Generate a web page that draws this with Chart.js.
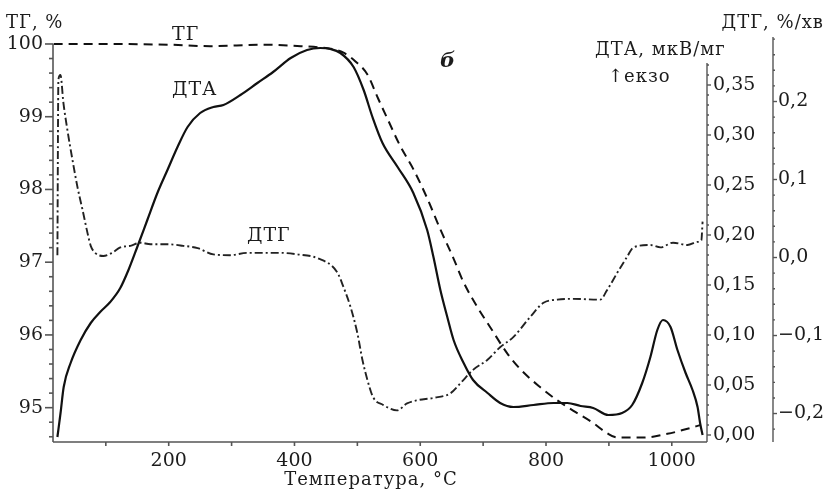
<!DOCTYPE html>
<html>
<head>
<meta charset="utf-8">
<script src="https://cdn.jsdelivr.net/npm/chart.js@4.4.0/dist/chart.umd.min.js"></script>
<style>
  body { margin: 0; background: #fff; }
  #wrap { width: 825px; height: 489px; position: relative; }
</style>
</head>
<body>
<div id="wrap"><canvas id="thermo"></canvas></div>
<script>
// ТГ, % (dashed line)
const tgTemp = [17, 100, 200, 266, 350, 410, 460, 478, 497, 516, 533, 549, 568, 589, 611, 632, 653, 668, 691, 711, 738, 759, 791, 818, 843, 875, 897, 913, 955, 993, 1025, 1045];
const tgMass = [100.0, 100.0, 99.99, 99.97, 99.99, 99.97, 99.93, 99.88, 99.76, 99.58, 99.25, 98.95, 98.6, 98.28, 97.88, 97.45, 97.05, 96.74, 96.38, 96.11, 95.75, 95.53, 95.28, 95.10, 94.96, 94.79, 94.65, 94.59, 94.59, 94.64, 94.71, 94.76];

// ДТА, мкВ/мг (solid line)
const dtaTemp = [23, 28, 33, 44, 60, 76, 91, 107, 123, 136, 150, 166, 182, 198, 214, 230, 250, 271, 287, 314, 341, 366, 394, 420, 441, 457, 473, 494, 510, 524, 540, 564, 589, 611, 621, 632, 643, 653, 669, 684, 707, 727, 748, 780, 812, 834, 855, 875, 899, 921, 937, 953, 966, 977, 986, 998, 1009, 1022, 1033, 1041, 1045, 1049];
const dtaSignal = [-0.002, 0.022, 0.048, 0.072, 0.095, 0.112, 0.123, 0.133, 0.147, 0.165, 0.188, 0.215, 0.242, 0.265, 0.288, 0.308, 0.322, 0.328, 0.330, 0.340, 0.352, 0.363, 0.377, 0.385, 0.387, 0.386, 0.382, 0.368, 0.345, 0.318, 0.292, 0.268, 0.242, 0.205, 0.178, 0.145, 0.118, 0.095, 0.072, 0.055, 0.042, 0.032, 0.028, 0.030, 0.032, 0.032, 0.029, 0.027, 0.020, 0.022, 0.030, 0.052, 0.078, 0.105, 0.115, 0.108, 0.085, 0.062, 0.045, 0.028, 0.012, 0.000];

// ДТГ, %/хв (dash-dot line)
const dtgTemp = [23, 24.6, 27.8, 32.6, 39, 47, 55, 63, 71, 76, 83, 96, 110, 123, 139, 155, 171, 198, 223, 246, 271, 298, 325, 351, 378, 405, 437, 468, 478, 489, 500, 508, 516, 525, 541, 563, 579, 595, 621, 648, 664, 684, 707, 727, 748, 775, 796, 818, 843, 886, 897, 913, 929, 939, 966, 982, 1002, 1025, 1041, 1047, 1049];
const dtgRate = [0.003, 0.228, 0.234, 0.198, 0.163, 0.125, 0.090, 0.061, 0.031, 0.015, 0.006, 0.002, 0.006, 0.013, 0.015, 0.019, 0.017, 0.017, 0.015, 0.012, 0.004, 0.003, 0.006, 0.006, 0.006, 0.004, -0.001, -0.019, -0.038, -0.063, -0.097, -0.131, -0.157, -0.179, -0.189, -0.196, -0.187, -0.183, -0.180, -0.174, -0.161, -0.144, -0.131, -0.115, -0.102, -0.076, -0.058, -0.054, -0.053, -0.054, -0.042, -0.020, 0.001, 0.013, 0.016, 0.013, 0.019, 0.016, 0.020, 0.022, 0.046];

// tick labels
const tempTicks = [200, 400, 600, 800, 1000];
const tgTicks = [95, 96, 97, 98, 99, 100];
const dtaTicks = [0, 0.05, 0.10, 0.15, 0.20, 0.25, 0.30, 0.35];
const dtgTicks = [-0.2, -0.1, 0, 0.1, 0.2];

const SERIF = '"DejaVu Serif", "Liberation Serif", serif';
const INK = '#1c1c1c';
const AXIS = '#555';

function range(from, to, step) {
  const out = [];
  for (let v = from; v <= to + step / 2; v += step) out.push(+v.toFixed(4));
  return out;
}

function pairs(xs, ys) {
  return xs.map((x, i) => ({ x: x, y: ys[i] }));
}

function fixTicks(values) {
  return axis => { axis.ticks = values.map(v => ({ value: v })); };
}

const comma = (v, digits) => v.toFixed(digits).replace('.', ',').replace('-', '\u2212');

// axis lines, tick marks and free text
const axisMarks = {
  id: 'axisMarks',
  afterDraw(chart) {
    const ctx = chart.ctx;
    const a = chart.chartArea;
    const { x, tg, dta, dtg } = chart.scales;
    ctx.save();
    ctx.strokeStyle = AXIS;
    ctx.lineWidth = 1.6;
    const seg = (x1, y1, x2, y2) => { ctx.beginPath(); ctx.moveTo(x1, y1); ctx.lineTo(x2, y2); ctx.stroke(); };

    // left ТГ axis
    seg(a.left, tg.getPixelForValue(100), a.left, a.bottom);
    range(94.6, 100, 0.2).forEach(v => {
      const y = tg.getPixelForValue(v);
      const major = Math.abs(v - Math.round(v)) < 0.01;
      seg(a.left - (major ? 8 : 4), y, a.left, y);
    });

    // bottom temperature axis
    seg(a.left, a.bottom, a.right, a.bottom);
    range(100, 1000, 100).forEach(v => {
      const px = x.getPixelForValue(v);
      seg(px, a.bottom, px, a.bottom + 4);
    });

    // ДТА axis
    ctx.lineWidth = 1.4;
    seg(a.right, dta.getPixelForValue(0.372), a.right, a.bottom);
    range(0, 0.37, 0.01).forEach(v => {
      const y = dta.getPixelForValue(v);
      const major = Math.abs(v * 20 - Math.round(v * 20)) < 0.01;
      seg(a.right, y, a.right + (major ? 4 : 2), y);
    });

    // ДТГ axis
    const gx = dtg.left;
    seg(gx, a.top, gx, a.bottom);
    range(-0.22, 0.28, 0.02).forEach(v => {
      const y = dtg.getPixelForValue(v);
      const major = Math.abs(v * 10 - Math.round(v * 10)) < 0.01;
      seg(gx, y, gx + (major ? 4 : 2), y);
    });

    // texts
    ctx.fillStyle = INK;
    ctx.textBaseline = 'alphabetic';
    ctx.letterSpacing = '1px';
    ctx.font = '18px ' + SERIF;
    ctx.textAlign = 'left';
    ctx.fillText('ТГ, %', 6, 28);
    ctx.fillText('ДТА, мкВ/мг', 595, 55);
    ctx.fillText('↑екзо', 608, 82);
    ctx.textAlign = 'right';
    ctx.fillText('ДТГ, %/хв', 824, 28);
    ctx.textAlign = 'center';
    ctx.fillText('Температура, °С', 371, 485);

    ctx.textAlign = 'left';
    ctx.font = '19px ' + SERIF;
    ctx.fillText('ТГ', 172, 40);
    ctx.fillText('ДТА', 172, 95);
    ctx.fillText('ДТГ', 247, 241);
    ctx.letterSpacing = '0px';
    ctx.font = 'italic bold 21px ' + SERIF;
    ctx.fillText('б', 440, 67);
    ctx.restore();
  }
};

const tickFont = { family: SERIF, size: 19 };

new Chart(document.getElementById('thermo'), {
  type: 'line',
  data: {
    datasets: [
      {
        label: 'ТГ',
        data: pairs(tgTemp, tgMass),
        yAxisID: 'tg',
        borderColor: '#111',
        borderWidth: 2,
        borderDash: [9, 6],
        pointRadius: 0,
        cubicInterpolationMode: 'monotone'
      },
      {
        label: 'ДТА',
        data: pairs(dtaTemp, dtaSignal),
        yAxisID: 'dta',
        borderColor: '#111',
        borderWidth: 2.2,
        pointRadius: 0,
        cubicInterpolationMode: 'monotone'
      },
      {
        label: 'ДТГ',
        data: pairs(dtgTemp, dtgRate),
        yAxisID: 'dtg',
        borderColor: '#222',
        borderWidth: 1.9,
        borderDash: [8, 3, 2, 3],
        pointRadius: 0,
        cubicInterpolationMode: 'monotone'
      }
    ]
  },
  options: {
    responsive: true,
    maintainAspectRatio: false,
    animation: false,
    layout: { padding: { top: 37, left: 0, right: 0, bottom: 0 } },
    plugins: {
      legend: { display: false },
      tooltip: { enabled: false }
    },
    scales: {
      x: {
        type: 'linear',
        min: 16,
        max: 1056,
        border: { display: false },
        grid: { display: false, drawTicks: false },
        afterBuildTicks: fixTicks(tempTicks),
        afterFit: axis => { axis.height = 47; },
        ticks: {
          autoSkip: false,
          maxRotation: 0,
          padding: 8,
          color: INK,
          font: tickFont,
          callback: v => String(v)
        }
      },
      tg: {
        type: 'linear',
        position: 'left',
        min: 94.528,
        max: 100.096,
        border: { display: false },
        grid: { display: false, drawTicks: false },
        afterBuildTicks: fixTicks(tgTicks),
        afterFit: axis => { axis.width = 53; },
        ticks: {
          padding: 10,
          color: INK,
          font: tickFont,
          callback: v => String(v)
        }
      },
      dta: {
        type: 'linear',
        position: 'right',
        min: -0.007,
        max: 0.398,
        border: { display: false },
        grid: { display: false, drawTicks: false },
        afterBuildTicks: fixTicks(dtaTicks),
        afterFit: axis => { axis.width = 66; },
        ticks: {
          padding: 6,
          color: INK,
          font: tickFont,
          callback: v => comma(v, 2)
        }
      },
      dtg: {
        type: 'linear',
        position: 'right',
        min: -0.2365,
        max: 0.2827,
        border: { display: false },
        grid: { display: false, drawTicks: false },
        afterBuildTicks: fixTicks(dtgTicks),
        afterFit: axis => { axis.width = 52; },
        ticks: {
          padding: 5,
          color: INK,
          font: tickFont,
          callback: v => comma(v, 1)
        }
      }
    }
  },
  plugins: [axisMarks]
});
</script>
</body>
</html>
